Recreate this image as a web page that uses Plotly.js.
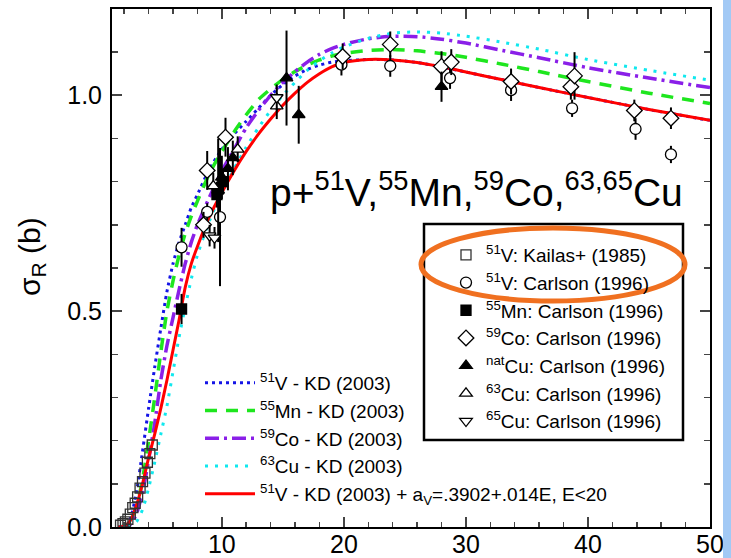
<!DOCTYPE html>
<html>
<head>
<meta charset="utf-8">
<script src="https://cdn.plot.ly/plotly-3.0.1.min.js"></script>
<style>html,body{margin:0;padding:0;background:#fff;}#chart{width:731px;height:558px;}</style>
</head>
<body>
<div id="chart"></div>
<script>
// ---- model curves (energy grid in MeV, cross section in b) ----
const E_grid = [1.5, 2, 2.5, 3, 3.5, 4, 4.5, 5, 5.5, 6, 6.5, 7, 7.5, 8, 9, 10, 11, 12, 13, 14, 15, 16, 17, 18, 19, 20, 22, 24, 26, 28, 30, 33, 36, 40, 45, 50];
const V_KD   = [0, 0.003, 0.02, 0.08, 0.175, 0.275, 0.37, 0.46, 0.545, 0.61, 0.66, 0.70, 0.74, 0.77, 0.83, 0.875, 0.91, 0.94, 0.97, 1.0, 1.025, 1.045, 1.06, 1.07, 1.077, 1.08, 1.083, 1.082, 1.076, 1.066, 1.054, 1.036, 1.018, 0.995, 0.967, 0.942];
const Mn_KD  = [0, 0.002, 0.012, 0.045, 0.11, 0.2, 0.3, 0.405, 0.5, 0.57, 0.63, 0.68, 0.72, 0.755, 0.82, 0.87, 0.915, 0.955, 0.99, 1.015, 1.037, 1.055, 1.07, 1.082, 1.091, 1.097, 1.104, 1.106, 1.103, 1.097, 1.088, 1.072, 1.055, 1.032, 1.005, 0.981];
const Co_KD  = [0, 0.001, 0.006, 0.03, 0.08, 0.155, 0.24, 0.34, 0.42, 0.485, 0.55, 0.61, 0.66, 0.70, 0.765, 0.825, 0.875, 0.925, 0.965, 1.0, 1.03, 1.055, 1.077, 1.095, 1.108, 1.118, 1.131, 1.137, 1.136, 1.13, 1.121, 1.104, 1.087, 1.064, 1.04, 1.018];
const Cu_KD  = [0, 0, 0.002, 0.012, 0.04, 0.09, 0.15, 0.215, 0.28, 0.36, 0.44, 0.51, 0.575, 0.63, 0.71, 0.775, 0.83, 0.88, 0.925, 0.965, 1.0, 1.03, 1.058, 1.08, 1.098, 1.112, 1.132, 1.144, 1.147, 1.144, 1.137, 1.123, 1.107, 1.083, 1.058, 1.035];
const V_KD_aV= [0, 0.002, 0.015, 0.05, 0.1, 0.16, 0.215, 0.275, 0.34, 0.41, 0.48, 0.555, 0.61, 0.65, 0.72, 0.775, 0.825, 0.87, 0.91, 0.945, 0.977, 1.005, 1.03, 1.05, 1.066, 1.076, 1.083, 1.082, 1.076, 1.066, 1.054, 1.036, 1.018, 0.995, 0.967, 0.942];

// ---- measurements ----
const kailas_E = [1.7, 1.9, 2.1, 2.3, 2.5, 2.7, 2.9, 3.1, 3.3, 3.5, 3.7, 3.9, 4.1, 4.3];
const kailas_s = [0.004, 0.008, 0.012, 0.018, 0.03, 0.045, 0.055, 0.07, 0.09, 0.105, 0.125, 0.15, 0.17, 0.19];

const V_E   = [6.7, 8.8, 9.85, 19.8, 23.8, 28.7, 33.7, 38.7, 43.9, 46.8];
const V_s   = [0.648, 0.73, 0.718, 1.071, 1.068, 1.04, 1.012, 0.97, 0.922, 0.863];
const V_err = [0.045, 0.02, 0.16, 0.025, 0.025, 0.025, 0.025, 0.02, 0.025, 0.02];

const Mn_E   = [6.7, 9.6, 10.1];
const Mn_s   = [0.505, 0.77, 0.80];
const Mn_err = [0.035, 0.03, 0.03];

const Co_E   = [8.5, 8.8, 10.3, 19.9, 23.8, 28.0, 28.8, 33.7, 38.6, 38.9, 43.8, 46.8];
const Co_s   = [0.70, 0.826, 0.903, 1.09, 1.118, 1.067, 1.077, 1.032, 1.02, 1.045, 0.965, 0.947];
const Co_err = [0.03, 0.045, 0.045, 0.03, 0.03, 0.035, 0.03, 0.03, 0.03, 0.055, 0.025, 0.025];

const natCu_E   = [9.7, 10.0, 10.5, 10.9, 15.3, 16.3, 28.0];
const natCu_s   = [0.78, 0.81, 0.83, 0.855, 1.04, 0.955, 1.02];
const natCu_err = [0.12, 0.05, 0.05, 0.04, 0.11, 0.067, 0.035];

const Cu63_E   = [9.3, 11.3, 14.5];
const Cu63_s   = [0.79, 0.875, 0.975];
const Cu63_err = [0.03, 0.03, 0.03];

const Cu65_E   = [9.0, 9.4, 14.5];
const Cu65_s   = [0.675, 0.67, 0.995];
const Cu65_err = [0.025, 0.025, 0.03];

const lineNames = [
  '<sup>51</sup>V - KD (2003)',
  '<sup>55</sup>Mn - KD (2003)',
  '<sup>59</sup>Co - KD (2003)',
  '<sup>63</sup>Cu - KD (2003)',
  '<sup>51</sup>V - KD (2003) + a<sub>V</sub>=.3902+.014E, E&lt;20'
];
const pointNames = [
  '<sup>51</sup>V: Kailas+ (1985)',
  '<sup>51</sup>V: Carlson (1996)',
  '<sup>55</sup>Mn: Carlson (1996)',
  '<sup>59</sup>Co: Carlson (1996)',
  '<sup>nat</sup>Cu: Carlson (1996)',
  '<sup>63</sup>Cu: Carlson (1996)',
  '<sup>65</sup>Cu: Carlson (1996)'
];

const FONT = 'Liberation Sans, Arial, Helvetica, sans-serif';

function lineTrace(y, name, color, dash, width) {
  return {x: E_grid, y: y, name: name, type: 'scatter', mode: 'lines',
    line: {color: color, dash: dash, width: width, shape: 'spline', smoothing: 0.6},
    legend: 'legend', hoverinfo: 'skip'};
}
function ptTrace(x, y, err, name, symbol, color, lineColor, size) {
  const t = {x: x, y: y, name: name, type: 'scatter', mode: 'markers',
    marker: {symbol: symbol, size: size, color: color, line: {color: lineColor, width: 1.3}},
    legend: 'legend2', cliponaxis: true, hoverinfo: 'skip'};
  if (err) t.error_y = {type: 'data', array: err, visible: true, thickness: 2, width: 0, color: '#000'};
  return t;
}

const traces = [
  lineTrace(V_KD, lineNames[0], '#1414e6', '3px,4px', 3),
  lineTrace(Mn_KD, lineNames[1], '#1ee61e', '12px,9px', 3.5),
  lineTrace(Co_KD, lineNames[2], '#8a1fe8', '14px,5px,3px,5px', 3.5),
  lineTrace(Cu_KD, lineNames[3], '#10e8ee', '3px,7px', 3),
  lineTrace(V_KD_aV, lineNames[4], '#ff0000', 'solid', 3),
  ptTrace(kailas_E, kailas_s, null, pointNames[0], 'square', 'rgba(255,255,255,0)', '#333', 10),
  ptTrace(V_E, V_s, V_err, pointNames[1], 'circle', '#fff', '#000', 11),
  ptTrace(Mn_E, Mn_s, Mn_err, pointNames[2], 'square', '#000', '#000', 10),
  ptTrace(Co_E, Co_s, Co_err, pointNames[3], 'diamond', '#fff', '#000', 12),
  ptTrace(natCu_E, natCu_s, natCu_err, pointNames[4], 'triangle-up', '#000', '#000', 11),
  ptTrace(Cu63_E, Cu63_s, Cu63_err, pointNames[5], 'triangle-up', '#fff', '#000', 11),
  ptTrace(Cu65_E, Cu65_s, Cu65_err, pointNames[6], 'triangle-down', '#fff', '#000', 11)
];

// pixel helpers for paper-referenced decorations (plot area 112..710 x 9..527)
const px = v => (v - 112) / 598;
const py = v => (527 - v) / 518;

const layout = {
  width: 731, height: 558,
  margin: {l: 112, r: 21, t: 9, b: 31},
  paper_bgcolor: '#fff', plot_bgcolor: '#fff',
  font: {family: FONT, color: '#000'},
  showlegend: true,
  xaxis: {
    range: [1, 50], tick0: 0, dtick: 10, ticks: 'inside', ticklen: 10, tickwidth: 2,
    showline: true, linewidth: 2, linecolor: '#000', mirror: 'ticks',
    showgrid: false, zeroline: false, tickfont: {size: 25, family: FONT}, ticklabelstandoff: -6,
    minor: {tick0: 0, dtick: 2, ticks: 'inside', ticklen: 5, tickwidth: 1.5, showgrid: false}
  },
  yaxis: {
    range: [0, 1.2], tick0: 0, dtick: 0.5, tickformat: '.1f', ticks: 'inside', ticklen: 10, tickwidth: 2,
    showline: true, linewidth: 2, linecolor: '#000', mirror: 'ticks',
    showgrid: false, zeroline: false, tickfont: {size: 25, family: FONT}, ticklabelstandoff: 3,
    minor: {tick0: 0, dtick: 0.1, ticks: 'inside', ticklen: 6, tickwidth: 1.5, showgrid: false}
  },
  legend: {
    x: px(200), y: py(364), xanchor: 'left', yanchor: 'top',
    bgcolor: 'rgba(0,0,0,0)', borderwidth: 0, font: {size: 19, family: FONT},
    itemwidth: 50, tracegroupgap: 0
  },
  legend2: {
    x: px(446), y: py(236), xanchor: 'left', yanchor: 'top',
    bgcolor: 'rgba(0,0,0,0)', borderwidth: 0, font: {size: 19, family: FONT},
    tracegroupgap: 0
  },
  shapes: [
    {type: 'rect', xref: 'paper', yref: 'paper', x0: px(424), x1: px(683), y0: py(440), y1: py(224),
     line: {color: '#000', width: 2.5}, fillcolor: 'rgba(0,0,0,0)', layer: 'above'},
    {type: 'circle', xref: 'paper', yref: 'paper', x0: px(421), x1: px(685), y0: py(301), y1: py(228),
     line: {color: '#f07020', width: 5}, fillcolor: 'rgba(0,0,0,0)', layer: 'above'},
    {type: 'rect', xref: 'paper', yref: 'paper', x0: px(723), x1: px(735), y0: py(565), y1: py(-5),
     line: {width: 0}, fillcolor: '#a2c9f5', layer: 'above'}
  ],
  annotations: [
    {xref: 'paper', yref: 'paper', x: px(476), y: py(190), xanchor: 'center', yanchor: 'middle',
     showarrow: false, text: 'p+<sup>51</sup>V,<sup>55</sup>Mn,<sup>59</sup>Co,<sup>63,65</sup>Cu',
     font: {size: 39, family: FONT, color: '#000'}},
    {xref: 'paper', yref: 'paper', x: px(31), y: py(257), xanchor: 'center', yanchor: 'middle',
     showarrow: false, textangle: -90, text: 'σ<sub>R</sub> (b)',
     font: {size: 30, family: FONT, color: '#000'}}
  ]
};

Plotly.newPlot('chart', traces, layout, {displayModeBar: false, staticPlot: true});
</script>
</body>
</html>
